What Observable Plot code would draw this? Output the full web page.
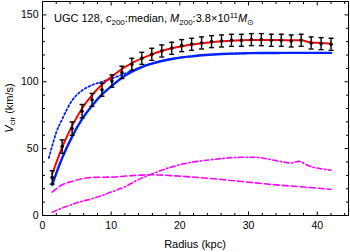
<!DOCTYPE html>
<html><head><meta charset="utf-8">
<script src="https://cdn.jsdelivr.net/npm/d3@7"></script>
<script src="https://cdn.jsdelivr.net/npm/@observablehq/plot@0.6"></script>
<style>body{margin:0;background:#fff}#chart{width:350px;height:252px}</style>
</head><body><div id="chart"></div>
<script>
// observed rotation curve
const radius = [1.41,2.86,4.31,5.76,7.21,8.66,10.11,11.56,13.01,14.46,15.91,17.36,18.81,20.26,21.71,23.16,24.61,26.06,27.51,28.96,30.41,31.86,33.31,34.76,36.21,37.66,39.11,40.56,42.01];
const vObs   = [28.5,51.5,65,78,86.5,94,100.5,107,113,117.5,120.5,123,125,127,128,129,130,130.5,131,131,131.5,131.5,131,131,130.5,131,129,128.5,128];
const vErr   = [5,5,5,5,4.8,4.8,4.6,4.6,4.5,4.5,4.5,4.5,4.5,4.5,4.5,4.5,4.5,4.5,4.5,4.5,4.5,4.5,4.5,4.5,4.5,4.5,4.5,4.5,4.5];
// model curves
const vTotal = [31,51,67,80,90,98,104,109.5,114,117.5,120.5,123,125,126.5,127.8,128.8,129.6,130.2,130.7,131,131.2,131.3,131.3,131.2,131,131,129.3,129,128.5];
const vBlue  = [23,43,59,72,82,90.5,97,103,107.5,111,113.5,115.5,117,118.2,119,119.8,120.3,120.7,121,121.2,121.4,121.5,121.5,121.6,121.6,121.6,121.6,121.6,121.6];
const rDotted = [0.92,1.41,2.0,2.86,4.31,5.76,7.21,8.66,10.11,11.56,13.01,14.46,15.91,17.36,18.81,20.26,21.71,23.16,24.61,26.06,27.51,28.96,30.41,33.31,36.21,39.11,42.01];
const vDotted = [43,52,62,72,86,93.5,97.5,100,102.5,105.2,108.3,111.2,113.6,115.5,117,118.2,119,119.8,120.3,120.7,121,121.2,121.4,121.5,121.6,121.6,121.6];
const rDashed = [1.41,2.86,4.31,5.76,7.21,10,13,15.7,17,19.4,24.2,29,34,38.8,42];
const vDashed = [17.5,23,25.5,27.5,28.5,28.7,29.8,30.5,30.3,29.6,27.8,25.4,22.9,21,19.6];
const rDashDot = [1.41,5,7.5,10,12,14,15.9,18,20,24.2,29,31,34,36.2,37.3,38.8,40.5,42];
const vDashDot = [2.5,9.5,13,17.5,21.5,27,31,35,38,41.5,43.5,43.5,41,39.3,40.5,37,35,33.8];
// ticks
const xMajorTicks = [0,10,20,30,40];
const xMinorTicks = [2,4,6,8,12,14,16,18,22,24,26,28,32,34,36,38,42,44];
const yMajorTicks = [0,50,100,150];
const yMinorTicks = [10,20,30,40,60,70,80,90,110,120,130,140,160];

const xMax = 44.55, yMax = 160;
// tick lengths (in data units: ~4px major, ~2.5px minor)
const xMajLen = 3.0, xMinLen = 1.9;   // along y
const yMajLen = 0.58, yMinLen = 0.37; // along x

const cap = {draw(ctx){ctx.moveTo(-2.5,0);ctx.lineTo(2.5,0);}};

const tickLinks = (ticks, len, side) => {
  if (side === "bottom") return Plot.link(ticks, {x1: d=>d, x2: d=>d, y1: 0, y2: len, stroke: "black", strokeWidth: 1});
  if (side === "top") return Plot.link(ticks, {x1: d=>d, x2: d=>d, y1: yMax, y2: yMax - len, stroke: "black", strokeWidth: 1});
  if (side === "left") return Plot.link(ticks, {y1: d=>d, y2: d=>d, x1: 0, x2: len, stroke: "black", strokeWidth: 1});
  return Plot.link(ticks, {y1: d=>d, y2: d=>d, x1: xMax, x2: xMax - len, stroke: "black", strokeWidth: 1});
};

const plot = Plot.plot({
  width: 350, height: 252,
  marginLeft: 42, marginRight: 2, marginTop: 1, marginBottom: 37,
  style: {fontFamily: "'Liberation Sans', Arial, sans-serif", fontSize: "10.5px", color: "black", background: "white"},
  x: {domain: [0, xMax]},
  y: {domain: [0, yMax]},
  marks: [
    Plot.axisX(xMajorTicks, {anchor: "bottom", tickSize: 0, tickPadding: 6, label: null}),
    Plot.axisY(yMajorTicks, {anchor: "left", tickSize: 0, tickPadding: 4, label: null}),
    tickLinks(xMinorTicks, xMinLen, "bottom"), tickLinks(xMajorTicks, xMajLen, "bottom"),
    tickLinks(xMinorTicks, xMinLen, "top"), tickLinks(xMajorTicks, xMajLen, "top"),
    tickLinks(yMinorTicks, yMinLen, "left"), tickLinks(yMajorTicks, yMajLen, "left"),
    tickLinks(yMinorTicks, yMinLen, "right"), tickLinks(yMajorTicks, yMajLen, "right"),
    Plot.line(rDashDot, {x: rDashDot, y: vDashDot, stroke: "#ff00ff", strokeWidth: 1.6, strokeDasharray: "5,2.5,1.5,2.5", curve: "monotone-x"}),
    Plot.line(rDashed, {x: rDashed, y: vDashed, stroke: "#ff00ff", strokeWidth: 1.6, strokeDasharray: "6,3", curve: "monotone-x"}),
    Plot.line(rDotted, {x: rDotted, y: vDotted, stroke: "#0022ff", strokeWidth: 1.8, strokeDasharray: "1.8,2.4", curve: "monotone-x"}),
    Plot.line(radius, {x: radius, y: vBlue, stroke: "#0022ff", strokeWidth: 2.4, curve: "monotone-x"}),
    Plot.line(radius, {x: radius, y: vTotal, stroke: "#ff0000", strokeWidth: 2, curve: "monotone-x"}),
    Plot.ruleX(radius, {x: radius, y1: radius.map((d,i)=>vObs[i]-vErr[i]), y2: radius.map((d,i)=>vObs[i]+vErr[i]), stroke: "black", strokeWidth: 1.4}),
    Plot.dot(radius, {x: radius, y: radius.map((d,i)=>vObs[i]-vErr[i]), symbol: cap, stroke: "black", strokeWidth: 1.4, fill: "none"}),
    Plot.dot(radius, {x: radius, y: radius.map((d,i)=>vObs[i]+vErr[i]), symbol: cap, stroke: "black", strokeWidth: 1.4, fill: "none"}),
    Plot.dot(radius, {x: radius, y: vObs, r: 1.8, fill: "black", stroke: "none"}),
    Plot.frame({stroke: "black", strokeWidth: 1})
  ]
});
document.getElementById("chart").appendChild(plot);

const svg = d3.select(plot);
const ff = "'Liberation Sans', Arial, sans-serif";
// title
const t = svg.append("text").attr("x", 54).attr("y", 22).attr("text-anchor", "start").attr("font-size", 11).attr("font-family", ff).attr("fill", "black");
t.append("tspan").text("UGC 128, ");
t.append("tspan").attr("font-style", "italic").text("c");
t.append("tspan").attr("font-size", 8).attr("dy", 2.5).text("200");
t.append("tspan").attr("dy", -2.5).text(":median, ");
t.append("tspan").attr("font-style", "italic").text("M");
t.append("tspan").attr("font-size", 8).attr("dy", 2.5).text("200");
t.append("tspan").attr("dy", -2.5).text(":3.8\u00d710");
t.append("tspan").attr("font-size", 8).attr("dy", -4).text("11");
t.append("tspan").attr("dy", 4).attr("font-style", "italic").text("M");
t.append("tspan").attr("font-size", 8).attr("dy", 2.5).text("\u2299");
// y label
const yl = svg.append("text").attr("transform", "translate(12.5,108) rotate(-90)").attr("text-anchor", "middle").attr("font-size", 11).attr("font-family", ff).attr("fill", "black");
yl.append("tspan").attr("font-style", "italic").text("V");
yl.append("tspan").attr("font-size", 8).attr("dy", 2.5).text("cir");
yl.append("tspan").attr("dy", -2.5).text(" (km/s)");
// x label
svg.append("text").attr("x", 195).attr("y", 248).attr("text-anchor", "middle").attr("font-size", 11).attr("font-family", ff).attr("fill", "black").text("Radius (kpc)");
</script>
</body></html>
